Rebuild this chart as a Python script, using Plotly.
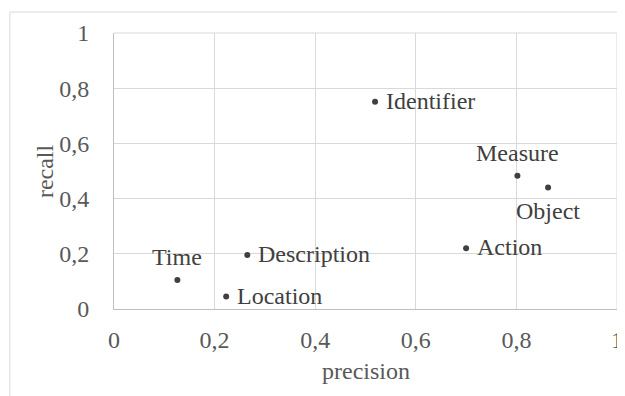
import plotly.graph_objects as go

# Data
labels = ["Identifier", "Measure", "Object", "Action", "Description", "Time", "Location"]
precision = [0.519, 0.802, 0.863, 0.700, 0.265, 0.126, 0.223]
recall = [0.751, 0.483, 0.440, 0.220, 0.196, 0.105, 0.045]
label_pos = ["right", "top", "bottom", "right", "right", "top", "right"]

tick_vals = [0, 0.2, 0.4, 0.6, 0.8, 1]
tick_text = ["0", "0,2", "0,4", "0,6", "0,8", "1"]

FONT = "Liberation Serif"
TICK_COLOR = "#595959"
LABEL_COLOR = "#404040"
GRID = "#d9d9d9"

fig = go.Figure()
fig.add_trace(go.Scatter(
    x=precision, y=recall, mode="markers",
    marker=dict(size=6, color="#404040"),
    hoverinfo="text", text=labels, showlegend=False,
))

annotations = []
for lab, px, ry, pos in zip(labels, precision, recall, label_pos):
    if pos == "right":
        annotations.append(dict(x=px, y=ry, xref="x", yref="y", text=lab, showarrow=False,
                                xanchor="left", yanchor="middle", xshift=9, yshift=1,
                                font=dict(family=FONT, size=24, color=LABEL_COLOR)))
    elif pos == "top":
        annotations.append(dict(x=px, y=ry, xref="x", yref="y", text=lab, showarrow=False,
                                xanchor="center", yanchor="bottom", yshift=8,
                                font=dict(family=FONT, size=24, color=LABEL_COLOR)))
    else:
        annotations.append(dict(x=px, y=ry, xref="x", yref="y", text=lab, showarrow=False,
                                xanchor="center", yanchor="top", yshift=-8,
                                font=dict(family=FONT, size=24, color=LABEL_COLOR)))

# Axis titles
annotations.append(dict(x=0.5, y=-0.225, xref="paper", yref="paper", text="precision", showarrow=False,
                        xanchor="center", yanchor="middle",
                        font=dict(family=FONT, size=24, color=TICK_COLOR)))
annotations.append(dict(x=-0.137, y=0.5, xref="paper", yref="paper", text="recall", showarrow=False,
                        xanchor="center", yanchor="middle", textangle=-90,
                        font=dict(family=FONT, size=24, color=TICK_COLOR)))

# The page body adds an 8px margin, so the figure is sized/offset to compensate.
fig.update_layout(
    width=617, height=388,
    margin=dict(l=106, r=8, t=25, b=87, autoexpand=False),
    paper_bgcolor="white", plot_bgcolor="white",
    font=dict(family=FONT, size=24, color=TICK_COLOR),
    annotations=annotations,
    shapes=[
        dict(type="rect", xref="paper", yref="paper",
             x0=-0.207, x1=1.05, y0=-0.4, y1=1.076,
             line=dict(color=GRID, width=1), layer="below"),
        dict(type="line", xref="paper", yref="paper", x0=0, x1=1, y0=1, y1=1,
             line=dict(color=GRID, width=1), layer="below"),
        dict(type="line", xref="paper", yref="paper", x0=1, x1=1, y0=0, y1=1,
             line=dict(color=GRID, width=1), layer="below"),
    ],
)
fig.update_xaxes(range=[0, 1], tickvals=tick_vals, ticktext=tick_text,
                 showgrid=True, gridcolor=GRID, gridwidth=1,
                 showline=True, linecolor="#bfbfbf", linewidth=1,
                 zeroline=False, ticks="", ticklabelstandoff=9,
                 ticklabeloverflow="allow",
                 tickfont=dict(family=FONT, size=24, color=TICK_COLOR))
fig.update_yaxes(range=[0, 1], tickvals=tick_vals, ticktext=tick_text,
                 showgrid=True, gridcolor=GRID, gridwidth=1,
                 showline=True, linecolor="#bfbfbf", linewidth=1,
                 zeroline=False, ticks="", ticklabelstandoff=19,
                 ticklabeloverflow="allow",
                 tickfont=dict(family=FONT, size=24, color=TICK_COLOR))

fig.write_html("out.html")
